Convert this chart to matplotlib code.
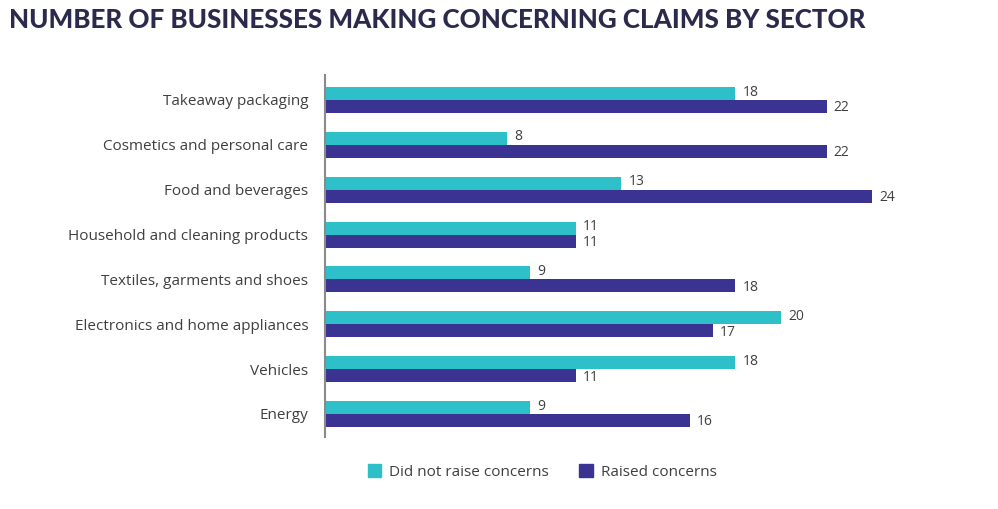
import numpy as np
import matplotlib.pyplot as plt
from matplotlib.patches import Patch

# Data
sectors = ["Takeaway packaging", "Cosmetics and personal care", "Food and beverages",
           "Household and cleaning products", "Textiles, garments and shoes",
           "Electronics and home appliances", "Vehicles", "Energy"]
did_not_raise = [18, 8, 13, 11, 9, 20, 18, 9]
raised = [22, 22, 24, 11, 18, 17, 11, 16]

teal = "#2EC0C8"
purple = "#3B3391"
text_col = "#3F3F3F"

plt.rcParams['font.family'] = ['Open Sans', 'DejaVu Sans']

fig = plt.figure(figsize=(9.98, 5.09), dpi=100)
# axes placed in pixels: left 325, right 948, top 75, bottom 437
ax = fig.add_axes([325 / 998, 1 - 437 / 509, (948 - 325) / 998, (437 - 75) / 509])

y = np.arange(len(sectors))
h = 0.29
ax.barh(y - h / 2, did_not_raise, height=h, color=teal, label="Did not raise concerns")
ax.barh(y + h / 2, raised, height=h, color=purple, label="Raised concerns")

# value labels, nudged apart a little
for yi, v in zip(y, did_not_raise):
    ax.annotate(str(v), (v, yi - h / 2), xytext=(5, 1), textcoords="offset points",
                va="center", ha="left", fontsize=10, color=text_col)
for yi, v in zip(y, raised):
    ax.annotate(str(v), (v, yi + h / 2), xytext=(5, -1), textcoords="offset points",
                va="center", ha="left", fontsize=10, color=text_col)

ax.set_xlim(0, (948 - 325) / 22.8)
ax.set_ylim(7.513, -0.557)
ax.set_yticks(y)
ax.set_yticklabels(sectors, fontsize=11, color=text_col)
ax.tick_params(axis="y", length=0, pad=12)
ax.set_xticks([])
for s in ["top", "right", "bottom"]:
    ax.spines[s].set_visible(False)
ax.spines["left"].set_color("#8A8A8A")
ax.spines["left"].set_linewidth(1.5)

fig.text(9 / 998, 1 - 20 / 509, "NUMBER OF BUSINESSES MAKING CONCERNING CLAIMS BY SECTOR",
         fontsize=18.7, fontweight="black", color="#2B2A4C", va="center", ha="left",
         family=["Lato", "DejaVu Sans"])

handles = [Patch(color=teal, label="Did not raise concerns"),
           Patch(color=purple, label="Raised concerns")]
fig.legend(handles=handles, loc="center", bbox_to_anchor=(542 / 998, 1 - 472 / 509),
           ncol=2, frameon=False, fontsize=11, handlelength=0.9, handleheight=0.9,
           columnspacing=2.0, handletextpad=0.5, labelcolor=text_col)

fig.savefig("out.png", dpi=100)
